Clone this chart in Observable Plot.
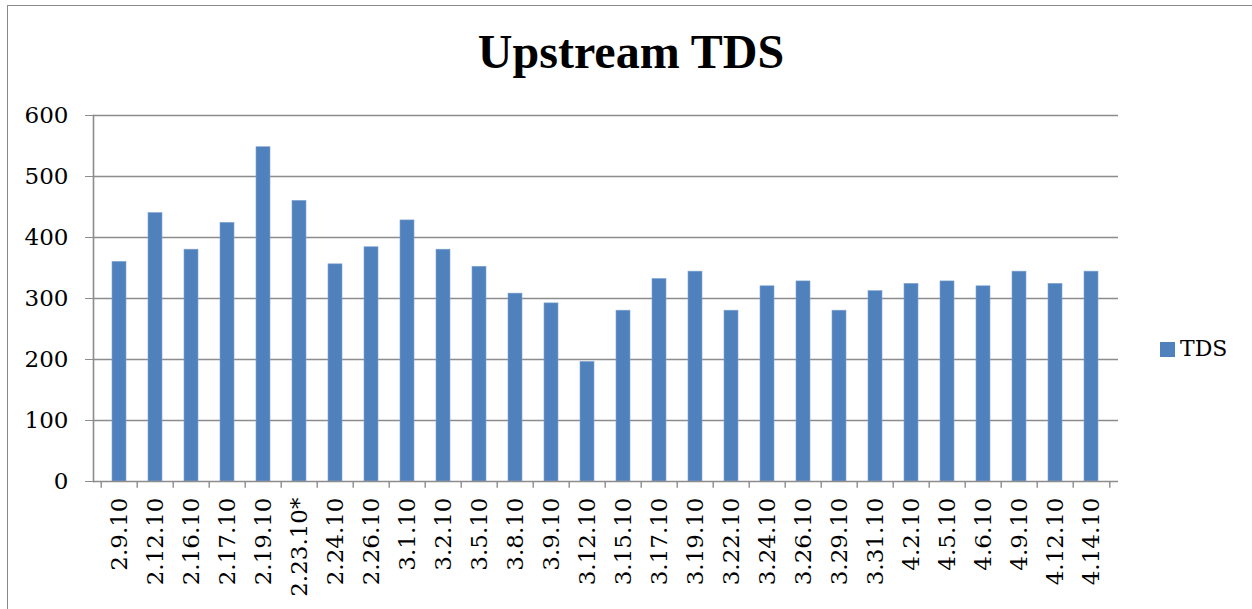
<!DOCTYPE html>
<html>
<head>
<meta charset="utf-8">
<script src="https://cdn.jsdelivr.net/npm/d3@7"></script>
<script src="https://cdn.jsdelivr.net/npm/@observablehq/plot@0.6"></script>
<style>
  html, body { margin: 0; padding: 0; background: #fff; }
  #wrap { position: relative; width: 1252px; height: 609px; overflow: hidden; font-family: "Liberation Serif", "DejaVu Serif", serif; }
  #frame { position: absolute; left: 7px; top: 5px; width: 1400px; height: 800px; border: 1.5px solid #8a8a8a; box-sizing: border-box; }
  #title { position: absolute; left: 0; top: 28px; width: 1262px; text-align: center; font-size: 48px; line-height: 48px; font-weight: bold; color: #000; }
  #legend { position: absolute; left: 1160px; top: 337px; font-family: "DejaVu Serif", serif; font-size: 22px; line-height: 24px; color: #000; display: flex; align-items: center; }
  #legend .sw { width: 15px; height: 15px; background: #4f81bd; margin-right: 5px; }
  #chart { position: absolute; left: 0; top: 0; }
  #chart svg text { font-family: "DejaVu Serif", serif; }
</style>
</head>
<body>
<div id="wrap">
  <div id="frame"></div>
  <div id="chart"></div>
  <div id="title">Upstream TDS</div>
  <div id="legend"><div class="sw"></div><span>TDS</span></div>
</div>
<script>
const dates = ["2.9.10","2.12.10","2.16.10","2.17.10","2.19.10","2.23.10*","2.24.10","2.26.10","3.1.10","3.2.10","3.5.10","3.8.10","3.9.10","3.12.10","3.15.10","3.17.10","3.19.10","3.22.10","3.24.10","3.26.10","3.29.10","3.31.10","4.2.10","4.5.10","4.6.10","4.9.10","4.12.10","4.14.10"];
const tds = [360,440,380,424,548,460,356,384,428,380,352,308,292,196,280,332,344,280,320,328,280,312,324,328,320,344,324,344];
const yTicks = [0,100,200,300,400,500,600];

const data = dates.map((d, i) => ({date: d, tds: tds[i]}));

const W = 1252, H = 609, ML = 93, MR = 134, MT = 115, MB = 128;
const step = (W - ML - MR) / dates.length;
const serif = "'DejaVu Serif', serif";

const chart = Plot.plot({
  width: W,
  height: H,
  marginLeft: ML,
  marginRight: MR,
  marginTop: MT,
  marginBottom: MB,
  style: {fontFamily: serif, fontSize: "23px", color: "#000", background: "transparent"},
  x: {domain: dates, paddingInner: 0.6, paddingOuter: 0.3, label: null},
  y: {domain: [0, 600], label: null},
  marks: [
    Plot.ruleY(yTicks.filter(v => v > 0), {stroke: "#8c8c8c", strokeWidth: 1.4}),
    Plot.barY(data, {x: "date", y: "tds", fill: "#4f81bd", stroke: "#7fa3d3", strokeWidth: 0.6}),
    Plot.ruleY([0], {stroke: "#8c8c8c", strokeWidth: 1.6}),
    Plot.frame({anchor: "left", stroke: "#8c8c8c", strokeWidth: 1.6}),
    Plot.ruleX(dates, {x: d => d, dx: -step / 2, y1: 0, y2: -11, stroke: "#8c8c8c", strokeWidth: 1.4, clip: false}),
    Plot.ruleX(dates.slice(-1), {x: d => d, dx: step / 2, y1: 0, y2: -11, stroke: "#8c8c8c", strokeWidth: 1.4, clip: false}),
    Plot.axisY({ticks: yTicks, tickSize: 8, tickPadding: 17, stroke: "#8c8c8c", fill: "#000", fontSize: 23, fontFamily: serif, label: null}),
    Plot.axisX({tickSize: 0, tickPadding: 16, tickRotate: -90, fill: "#000", fontSize: 23, fontFamily: serif, label: null})
  ]
});
document.getElementById("chart").appendChild(chart);
</script>
</body>
</html>
